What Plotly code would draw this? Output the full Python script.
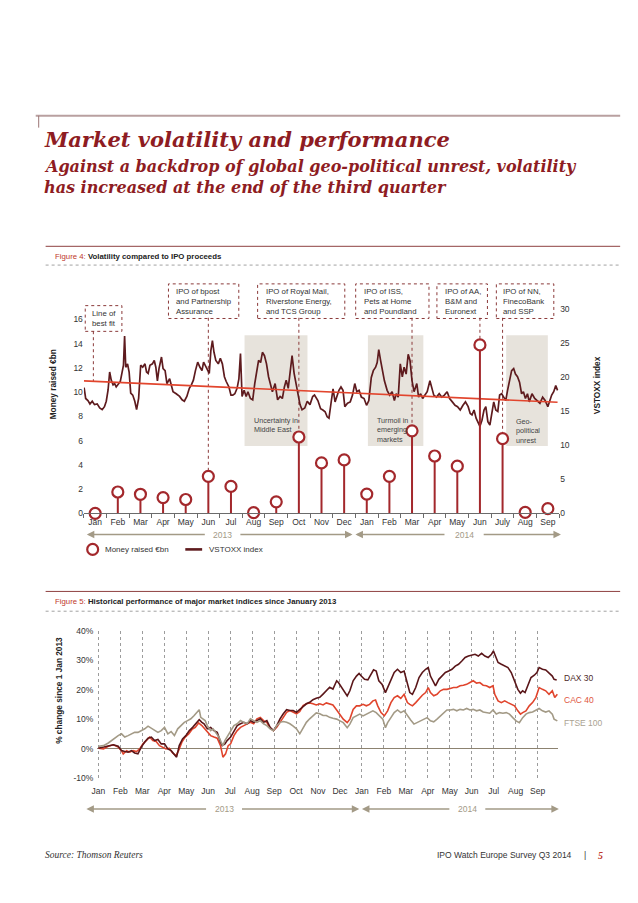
import plotly.graph_objects as go

W, H = 638, 903
def PX(x): return x / W
def PY(y): return 1 - y / H

# ---------------- DATA ----------------
months_fig4 = ["Jan","Feb","Mar","Apr","May","Jun","Jul","Aug","Sep","Oct","Nov","Dec",
               "Jan","Feb","Mar","Apr","May","Jun","July","Aug","Sep"]
months_fig5 = ["Jan","Feb","Mar","Apr","May","Jun","Jul","Aug","Sep","Oct","Nov","Dec",
               "Jan","Feb","Mar","Apr","May","Jun","Jul","Aug","Sep"]

# IPO money raised per month (EUR bn), Jan 2013 .. Sep 2014
money_raised = [0.0, 1.76, 1.57, 1.30, 1.14, 3.05, 2.22, 0.05, 0.95, 6.3, 4.16, 4.41,
                1.59, 3.05, 6.81, 4.73, 3.89, 13.9, 6.16, 0.08, 0.38]

# VSTOXX index, time in months (0 = Jan 2013)
vstoxx_t = [-0.49,-0.42,-0.32,-0.23,-0.13,-0.03,0.09,0.20,0.31,0.41,
            0.49,0.57,0.64,0.71,0.79,0.86,0.93,1.03,1.11,1.18,
            1.25,1.30,1.35,1.43,1.50,1.57,1.66,1.75,1.83,1.92,
            2.01,2.10,2.20,2.27,2.34,2.42,2.53,2.61,2.68,2.75,
            2.82,2.93,3.00,3.09,3.17,3.29,3.44,3.58,3.73,3.84,
            3.94,4.05,4.16,4.25,4.34,4.43,4.53,4.63,4.72,4.79,
            4.89,4.96,5.04,5.11,5.18,5.25,5.33,5.44,5.53,5.62,
            5.71,5.79,5.91,6.00,6.08,6.17,6.27,6.35,6.42,6.49,
            6.58,6.67,6.75,6.86,6.96,7.05,7.15,7.22,7.31,7.39,
            7.48,7.57,7.66,7.74,7.83,7.95,8.06,8.17,8.27,8.36,
            8.44,8.53,8.62,8.70,8.79,8.88,8.97,9.05,9.14,9.26,
            9.37,9.49,9.61,
            9.69,9.84,9.96,10.06,10.16,10.25,10.33,10.42,10.51,10.60,
            10.68,10.77,10.86,10.95,11.03,11.15,11.27,11.37,11.47,11.56,
            11.66,11.76,11.88,11.99,12.09,12.20,12.29,12.39,12.46,12.53,
            12.61,12.69,12.78,12.90,13.01,13.12,13.22,13.30,13.39,13.48,
            13.57,13.65,13.74,13.83,13.91,14.00,14.09,14.21,14.29,14.38,
            14.47,14.57,14.67,14.79,14.88,14.96,15.08,15.20,15.31,15.43,
            15.55,15.66,15.78,15.90,16.01,16.13,16.25,16.36,16.48,16.57,
            16.65,16.74,16.83,16.91,17.00,17.09,17.18,17.26,17.35,17.44,
            17.53,17.61,17.70,17.79,17.87,17.96,18.05,18.14,18.22,18.31,
            18.40,18.49,18.57,18.66,18.75,18.84,18.92,19.01,19.10,19.18,
            19.30,19.42,19.53,19.65,19.77,19.88,20.00,20.09,20.17,20.26,
            20.35,20.43]
vstoxx = [18.5,16.9,16.6,16.1,16.5,16.0,16.1,15.5,15.25,15.7,
          16.5,18.15,20.8,19.6,18.9,19.1,18.6,19.1,19.4,20.6,
          21.8,26.1,21.5,22.0,20.8,17.7,17.4,16.5,15.25,16.9,
          21.8,21.5,22.0,20.8,20.6,21.8,22.0,22.5,21.5,19.5,
          21.3,23.0,21.3,21.0,19.1,19.8,17.9,17.6,17.2,16.7,
          16.5,17.2,18.4,18.9,19.6,21.0,22.25,21.5,21.0,22.25,
          21.5,21.0,20.6,23.9,25.4,23.7,22.5,22.0,22.8,22.0,
          20.1,19.4,18.6,17.4,17.4,17.6,18.4,19.8,23.5,17.2,
          18.1,17.2,17.9,16.9,16.7,19.1,21.0,22.5,22.2,23.7,
          23.2,22.0,20.1,19.1,17.9,19.1,16.7,17.2,16.9,18.6,
          19.6,18.4,21.0,23.2,20.6,19.1,17.2,16.0,15.25,15.5,
          16.5,16.0,17.2,
          17.4,16.6,15.4,15.2,14.95,14.2,14.0,16.2,18.3,16.4,
          17.4,18.1,18.6,18.1,15.7,16.2,16.4,17.4,19.1,17.9,
          18.1,17.1,16.9,15.9,16.6,20.0,21.0,21.5,22.2,24.1,
          22.5,21.0,19.5,18.1,17.4,17.9,16.6,17.6,17.1,22.0,
          20.1,21.5,20.5,23.4,22.5,19.5,17.9,19.1,17.1,17.6,
          16.9,17.4,17.9,19.5,18.3,17.4,17.1,17.6,17.1,17.4,
          17.9,16.9,16.4,15.9,15.7,15.2,15.9,16.4,15.7,14.7,
          14.5,15.2,14.0,13.3,12.8,13.7,15.2,15.7,13.5,13.0,
          14.7,16.4,15.2,15.0,17.4,17.6,17.1,16.6,18.1,19.5,
          21.0,21.3,20.5,20.1,19.3,17.6,17.9,16.9,17.6,16.4,
          17.6,16.9,16.6,16.2,17.1,16.6,15.7,16.6,17.4,17.9,
          18.8,18.1]

# line of best fit through VSTOXX (start / end)
fit_t = [-0.5, 20.43]
fit_v = [19.5, 16.35]

# Figure 5: % change since 1 Jan 2013, time in months (0 = 1 Jan 2013)
dax_t = [0.00,0.23,0.45,0.68,0.90,1.05,1.20,1.35,1.50,1.65,
         1.80,1.95,2.11,2.26,2.41,2.56,2.71,2.86,3.01,3.16,
         3.31,3.46,3.56,3.68,3.83,3.98,4.14,4.29,4.44,4.59,
         4.71,4.81,4.96,5.11,5.26,5.41,5.56,5.64,5.76,5.86,
         6.02,6.17,6.32,6.47,6.62,6.77,6.92,7.07,7.22,7.37,
         7.52,7.67,7.82,7.97,8.12,8.27,8.42,8.57,8.72,8.87,
         9.02,9.17,9.32,9.47,9.62,9.77,9.92,10.08,10.23,10.38,
         10.53,10.68,
         10.85,10.93,11.07,11.22,11.33,11.45,11.60,11.75,11.87,11.97,
         12.12,12.27,12.42,12.53,12.65,12.77,12.92,13.07,13.17,13.32,
         13.47,13.62,13.77,13.92,14.07,14.18,14.30,14.45,14.60,14.75,
         14.90,15.02,15.12,15.23,15.35,15.50,15.65,15.80,15.95,16.10,
         16.25,16.40,16.55,16.70,16.85,17.00,17.15,17.30,17.45,17.60,
         17.75,17.90,17.99,18.08,18.20,18.35,18.50,18.65,18.80,18.95,
         19.10,19.22,19.32,19.43,19.55,19.70,19.85,19.97,20.07,20.22,
         20.37,20.52,20.67,20.75,20.87]
dax = [0.2,0.6,0.9,1.4,0.9,-0.6,-0.9,-1.1,-0.6,-1.4,
       -1.7,0.6,2.3,3.6,4.0,2.8,3.2,1.7,1.7,0.0,
       -0.6,-2.0,-2.8,1.1,3.4,4.5,6.2,7.3,8.5,9.9,
       9.0,8.5,6.8,7.3,6.2,5.6,2.3,1.1,1.7,2.8,
       4.0,6.2,7.9,8.5,9.0,8.5,9.6,9.0,9.6,10.2,
       9.0,9.6,7.3,6.2,7.9,10.2,11.9,13.3,13.0,13.0,
       12.4,13.3,14.1,15.3,15.8,16.7,17.2,17.5,18.6,19.8,
       20.9,20.3,
       23.1,22.5,20.8,19.1,18.0,19.7,23.1,24.7,25.6,24.7,
       23.6,23.4,25.3,26.8,26.4,23.1,21.9,19.1,20.8,23.6,
       25.9,27.0,25.9,26.4,21.9,19.1,18.5,20.8,24.2,25.9,
       27.0,27.6,24.7,23.1,21.4,23.6,24.7,25.9,26.4,27.0,
       28.1,28.7,29.8,31.0,31.5,31.8,32.1,31.5,32.4,31.5,
       31.0,32.1,33.2,31.5,29.3,28.7,28.1,27.6,25.9,23.1,
       20.2,18.9,19.7,19.1,21.4,24.2,25.0,25.9,27.6,27.0,
       26.8,25.9,24.7,23.6,23.4]

cac_t = [0.00,0.23,0.45,0.68,0.90,1.05,1.13,1.28,1.43,1.58,
         1.73,1.88,2.03,2.18,2.33,2.48,2.63,2.78,2.93,3.08,
         3.23,3.38,3.53,3.65,3.80,3.95,4.11,4.26,4.41,4.56,
         4.71,4.81,4.96,5.11,5.26,5.41,5.56,5.67,5.79,5.91,
         6.02,6.17,6.32,6.47,6.62,6.77,6.92,7.07,7.22,7.37,
         7.52,7.67,7.82,7.97,8.12,8.27,8.42,8.57,8.72,8.87,
         9.02,9.17,9.32,9.47,9.62,9.77,9.92,10.08,10.23,10.38,
         10.53,10.68,
         10.85,11.00,11.15,11.33,11.45,11.60,11.75,11.90,12.05,12.20,
         12.35,12.50,12.62,12.72,12.87,13.02,13.17,13.32,13.47,13.62,
         13.77,13.92,14.07,14.18,14.30,14.45,14.60,14.75,14.90,15.02,
         15.12,15.27,15.42,15.57,15.72,15.87,16.02,16.17,16.32,16.47,
         16.62,16.77,16.92,17.07,17.22,17.37,17.52,17.67,17.82,17.97,
         18.05,18.20,18.35,18.50,18.65,18.80,18.95,19.10,19.22,19.32,
         19.47,19.62,19.77,19.92,20.07,20.22,20.37,20.52,20.67,20.78,
         20.90]
cac = [0.2,0.0,0.9,1.4,0.6,-0.6,-1.7,-0.6,-1.1,-0.6,
       -0.9,0.0,1.7,2.8,4.0,2.8,2.5,1.1,0.6,0.0,
       0.2,-1.4,-2.3,-0.6,2.3,4.0,5.1,6.6,7.3,8.8,
       7.9,7.0,5.6,4.5,4.0,3.6,1.1,-2.8,-1.7,1.1,
       1.7,4.5,6.2,7.3,7.9,8.5,9.0,8.5,10.2,10.7,
       9.6,9.0,7.0,6.2,7.3,9.0,10.7,12.4,13.0,12.4,
       11.9,12.7,14.7,15.3,15.6,15.3,14.9,15.3,14.9,15.6,
       15.3,14.9,
       13.2,11.8,10.1,8.9,10.1,13.4,14.6,14.6,15.1,14.6,
       15.1,16.3,16.6,14.6,12.3,11.2,12.9,15.7,17.4,18.0,
       17.1,18.5,15.7,15.1,14.6,15.7,17.1,18.2,19.1,20.8,
       19.1,18.0,18.5,19.7,20.2,20.2,20.5,20.8,20.8,21.4,
       21.6,21.9,22.5,23.1,22.3,22.5,21.6,21.4,20.8,21.4,
       18.5,16.3,15.7,16.3,15.7,15.1,14.6,12.9,11.8,12.3,
       12.9,14.6,15.7,17.4,20.8,20.2,19.7,18.5,19.7,17.4,
       18.5]

ftse_t = [0.00,0.23,0.45,0.68,0.90,1.05,1.20,1.35,1.50,1.65,
          1.80,1.95,2.11,2.26,2.41,2.56,2.71,2.86,3.01,3.16,
          3.31,3.46,3.61,3.76,3.91,4.06,4.21,4.36,4.47,4.59,
          4.66,4.74,4.86,4.96,5.11,5.22,5.34,5.49,5.59,5.67,
          5.76,5.86,6.02,6.17,6.32,6.47,6.62,6.77,6.92,7.07,
          7.22,7.37,7.52,7.67,7.82,7.97,8.12,8.27,8.42,8.57,
          8.72,8.87,9.02,9.17,9.32,9.47,9.62,9.77,9.92,10.08,
          10.23,10.38,10.53,10.68,
          10.85,11.00,11.15,11.33,11.45,11.60,11.75,11.90,12.05,12.20,
          12.35,12.50,12.65,12.80,12.95,13.07,13.17,13.32,13.47,13.62,
          13.77,13.92,14.07,14.22,14.37,14.52,14.67,14.82,14.97,15.12,
          15.27,15.42,15.57,15.72,15.87,16.02,16.17,16.32,16.47,16.62,
          16.77,16.92,17.07,17.22,17.37,17.52,17.67,17.82,17.97,18.12,
          18.27,18.42,18.57,18.72,18.87,19.02,19.17,19.32,19.47,19.62,
          19.77,19.92,20.07,20.22,20.37,20.52,20.67,20.75,20.90]
ftse = [0.9,1.1,2.0,3.4,4.5,5.1,4.0,4.5,5.1,5.6,
        5.6,6.2,6.8,7.7,7.0,6.2,5.6,6.2,7.3,5.1,
        5.9,4.5,6.8,7.9,9.0,9.6,10.2,11.3,12.4,13.3,
        10.7,10.2,9.6,7.9,6.2,6.8,5.6,4.0,2.3,1.1,
        2.8,4.0,6.2,7.9,8.5,9.6,9.0,8.5,10.2,9.6,
        9.0,9.6,8.5,7.9,6.8,6.2,7.9,9.0,9.3,9.0,
        8.5,7.7,6.8,5.1,7.3,9.0,10.2,11.3,12.2,11.9,
        11.3,11.3,10.7,10.4,
        10.1,9.5,8.9,7.2,8.4,10.6,11.2,11.8,11.2,11.8,
        12.5,12.9,12.3,11.2,10.1,7.2,8.9,10.6,12.3,13.2,
        12.3,12.9,11.2,9.8,8.4,8.9,9.5,10.1,10.6,9.5,
        9.2,10.1,11.2,12.3,13.2,13.2,13.4,12.9,13.4,13.2,
        13.7,13.2,13.4,12.9,13.2,12.5,12.3,12.1,13.2,11.8,
        12.3,12.1,12.3,11.8,10.6,9.5,8.9,10.6,11.8,12.3,
        12.5,13.2,13.7,12.9,12.5,12.9,11.8,10.1,9.5]

fig5_ticks = [-10, 0, 10, 20, 30, 40]

# ---------------- STYLE ----------------
SANS = "Liberation Sans, Arial, sans-serif"
SERIF = "DejaVu Serif, serif"
RED_T = "#8e1c22"
MAROON = "#5e1b1e"
STEM = "#a3282c"
FITRED = "#e2452d"
TAN = "#a39a86"
TXT = "#333333"

fig = go.Figure()

# ---- Figure 4 traces ----
fig.add_trace(go.Scatter(x=vstoxx_t, y=vstoxx, xaxis="x", yaxis="y", mode="lines",
                         line=dict(color=MAROON, width=1.7), hoverinfo="skip"))
fig.add_trace(go.Scatter(x=fit_t, y=fit_v, xaxis="x", yaxis="y", mode="lines",
                         line=dict(color=FITRED, width=1.6), hoverinfo="skip"))
stem_x, stem_y = [], []
for i, v in enumerate(money_raised):
    stem_x += [i, i, None]
    stem_y += [0, v, None]
fig.add_trace(go.Scatter(x=stem_x, y=stem_y, xaxis="x", yaxis="y2", mode="lines",
                         line=dict(color=STEM, width=2), hoverinfo="skip"))
fig.add_trace(go.Scatter(x=list(range(len(money_raised))), y=money_raised, xaxis="x", yaxis="y2",
                         mode="markers", cliponaxis=False,
                         marker=dict(symbol="circle", size=11, color="white",
                                     line=dict(color=STEM, width=2.2)),
                         hoverinfo="skip"))

# ---- Figure 5 traces ----
fig.add_trace(go.Scatter(x=cac_t, y=cac, xaxis="x3", yaxis="y3", mode="lines",
                         line=dict(color="#e0442c", width=1.6), hoverinfo="skip"))
fig.add_trace(go.Scatter(x=dax_t, y=dax, xaxis="x3", yaxis="y3", mode="lines",
                         line=dict(color="#5a1619", width=1.6), hoverinfo="skip"))
fig.add_trace(go.Scatter(x=ftse_t, y=ftse, xaxis="x3", yaxis="y3", mode="lines",
                         line=dict(color=TAN, width=1.6), hoverinfo="skip"))

tickfont = dict(family=SANS, size=8.5, color=TXT)

fig.update_layout(
    width=W, height=H, autosize=False, showlegend=False,
    margin=dict(l=0, r=0, t=0, b=0),
    paper_bgcolor="white", plot_bgcolor="white",
    xaxis=dict(domain=[PX(78.6), PX(558.4)], range=[-0.5, 20.5], anchor="y",
               tickmode="array", tickvals=list(range(21)), ticktext=months_fig4,
               ticks="", showline=True, linecolor="#6b6b6b", linewidth=1,
               showgrid=False, zeroline=False, tickfont=tickfont,
               minor=dict(tick0=0.5, dtick=1, ticks="outside", ticklen=4,
                          tickcolor="#6b6b6b", showgrid=False)),
    yaxis=dict(domain=[PY(514), PY(300)], range=[0, 31.15], side="right", anchor="x",
               tickmode="array", tickvals=[0, 5, 10, 15, 20, 25, 30],
               showgrid=False, zeroline=False, showline=False, ticks="", tickfont=tickfont),
    yaxis2=dict(overlaying="y", side="left", range=[0, 17.47], anchor="x",
                tickmode="array", tickvals=[0, 2, 4, 6, 8, 10, 12, 14, 16],
                showgrid=False, zeroline=False, showline=False, ticks="", tickfont=tickfont),
    xaxis3=dict(domain=[PX(92.2), PX(557.7)], range=[-0.05, 20.95], anchor="y3",
                tickmode="array", tickvals=list(range(21)), ticktext=months_fig5,
                ticks="", showline=False, zeroline=False, ticklabelstandoff=6,
                showgrid=True, gridcolor="#9c9c9c", gridwidth=1, griddash="dot",
                tickfont=tickfont),
    yaxis3=dict(domain=[PY(782), PY(633)], range=[-10, 40], anchor="x3",
                tickmode="array", tickvals=fig5_ticks,
                ticktext=[f"{v}%" for v in fig5_ticks], ticklabelstandoff=3,
                showgrid=False, zeroline=True, zerolinecolor="#8c8270", zerolinewidth=1.3,
                showline=False, ticks="", tickfont=tickfont),
)

shapes = []
ann = []

def text(x, y, s, size=8, color=TXT, xanchor="left", yanchor="middle", family=SANS,
         weight="normal", style="normal", align="left", angle=0, xref="paper", yref="paper"):
    ann.append(dict(x=x, y=y, xref=xref, yref=yref, text=s, showarrow=False,
                    xanchor=xanchor, yanchor=yanchor, align=align, textangle=angle,
                    font=dict(family=family, size=size, color=color, weight=weight, style=style)))

def pline(x0, y0, x1, y1, color, width=1, dash="solid"):
    shapes.append(dict(type="line", xref="paper", yref="paper",
                       x0=PX(x0), y0=PY(y0), x1=PX(x1), y1=PY(y1),
                       line=dict(color=color, width=width, dash=dash)))

# ---- page header ----
pline(30, 112, 620, 112, "#b9a0a0", 2)
pline(33, 112, 33, 124, "#9c7676", 1)
text(PX(36), PY(136), "Market volatility and performance", size=21, color=RED_T,
     family=SERIF, weight="bold", style="italic")
text(PX(36), PY(163), "Against a backdrop of global geo-political unrest, volatility",
     size=16, color=RED_T, family=SERIF, weight="bold", style="italic")
text(PX(36), PY(185), "has increased at the end of the third quarter",
     size=16, color=RED_T, family=SERIF, weight="bold", style="italic")

# ---- figure headers ----
for (ys, yt, yd, label, title) in [(244, 254, 263, "Figure 4:", "Volatility compared to IPO proceeds"),
                                    (593, 603, 613, "Figure 5:", "Historical performance of major market indices since January 2013")]:
    pline(40, ys, 620, ys, "#8e4040", 1)
    pline(40, yd, 620, yd, "#8a8a8a", 0.8, "dot")
    text(PX(47), PY(yt), f"<span style='color:#c0392b'>{label}</span> <b>{title}</b>",
         size=7.8, color="#222")

# ---- Figure 4 shaded periods ----
shade_periods = [(6.6, 9.38), (12.05, 14.5), (18.16, 20.0)]
for x0, x1 in shade_periods:
    shapes.append(dict(type="rect", xref="x", yref="paper", x0=x0, x1=x1,
                       y0=PY(446), y1=PY(334), fillcolor="#e7e3dc", line=dict(width=0),
                       layer="below"))
text(PX(248), PY(425), "Uncertainty in<br>Middle East", size=7.2, color="#444")
text(PX(372.5), PY(429.5), "Turmoil in<br>emerging<br>markets", size=7.2, color="#444")
text(PX(512.5), PY(430.5), "Geo-<br>political<br>unrest", size=7.2, color="#444")

# ---- Figure 4 callout boxes ----
BOXC = "#8b3a3a"
boxes = [
    ((80, 304, 117, 330), "Line of<br>best fit", 85),
    ((164, 282, 235, 317), "IPO of bpost<br>and Partnership<br>Assurance", 170),
    ((254, 282, 342, 317), "IPO of Royal Mail,<br>Riverstone Energy,<br>and TCS Group", 260),
    ((353, 282, 427, 317), "IPO of ISS,<br>Pets at Home<br>and Poundland", 359),
    ((435, 282, 486, 317), "IPO of AA,<br>B&amp;M and<br>Euronext", 441),
    ((495, 282, 553, 317), "IPO of NN,<br>FinecoBank<br>and SSP", 500),
]
for (x0, y0, x1, y1), s, tx in boxes:
    shapes.append(dict(type="rect", xref="paper", yref="paper",
                       x0=PX(x0), x1=PX(x1), y0=PY(y1), y1=PY(y0),
                       line=dict(color=BOXC, width=1, dash="dot"), fillcolor="rgba(0,0,0,0)"))
    text(PX(tx), PY((y0 + y1) / 2), s, size=7.8, color=TXT)

# pointer from "Line of best fit" box down to the fit line
lobf_t = -0.08
lobf_v = fit_v[0] + (fit_v[1] - fit_v[0]) * (lobf_t - fit_t[0]) / (fit_t[1] - fit_t[0])
shapes.append(dict(type="line", xref="x", yref="y", x0=lobf_t, x1=lobf_t, y0=26.8, y1=lobf_v,
                   line=dict(color=BOXC, width=1, dash="dot"), layer="below"))
# pointers from IPO boxes down to the month lollipops
for m in [5, 9, 14, 17, 18]:
    shapes.append(dict(type="line", xref="x", yref="y2", x0=m, x1=m, y0=16.14,
                       y1=money_raised[m], line=dict(color=BOXC, width=1, dash="dot"),
                       layer="below"))

# ---- axis titles ----
text(PX(47), PY(384), "<b>Money raised €bn</b>", size=8.3, color="#222", xanchor="center",
     angle=-90)
text(PX(596), PY(384), "<b>VSTOXX index</b>", size=8.3, color="#222", xanchor="center",
     angle=-90)
text(PX(54), PY(693), "<b>% change since 1 Jan 2013</b>", size=8.3, color="#222",
     xanchor="center", angle=-90)

# ---- year arrows ----
def year_arrow(xref, yv, left_tip, right_tip, center, gap, label):
    for tip, tail in [(left_tip, center - gap), (right_tip, center + gap)]:
        ann.append(dict(x=tip, y=yv, xref=xref, yref="paper", ax=tail, ay=0, axref=xref,
                        ayref="pixel", text="", showarrow=True, arrowhead=2, arrowsize=1,
                        arrowwidth=1.5, arrowcolor=TAN, standoff=0, startstandoff=0))
    ann.append(dict(x=center, y=yv, xref=xref, yref="paper", text=label, showarrow=False,
                    xanchor="center", yanchor="middle",
                    font=dict(family=SANS, size=8.5, color=TAN)))

year_arrow("x", PY(535.5), -0.37, 11.37, 5.63, 0.72, "2013")
year_arrow("x", PY(535.5), 11.5, 20.58, 16.3, 0.8, "2014")
year_arrow("x3", PY(813), -0.55, 11.88, 5.72, 0.75, "2013")
year_arrow("x3", PY(813), 12.0, 20.97, 16.8, 0.75, "2014")

# ---- Figure 4 legend ----
shapes.append(dict(type="circle", xref="paper", yref="paper",
                   x0=PX(82), x1=PX(93), y0=PY(556), y1=PY(545),
                   line=dict(color=STEM, width=2.2), fillcolor="white"))
text(PX(98), PY(550.5), "Money raised €bn", size=8, color=TXT)
pline(181, 550.5, 198, 550.5, MAROON, 2.6)
text(PX(203), PY(550.5), "VSTOXX index", size=8, color=TXT)

# ---- Figure 5 series labels ----
for lab, yv, col in [("DAX 30", 24.2, "#4e2a2a"), ("CAC 40", 16.6, "#e0553d"),
                     ("FTSE 100", 8.7, "#aaa292")]:
    ann.append(dict(x=20.9, y=yv, xref="x3", yref="y3", text=lab, showarrow=False,
                    xanchor="left", yanchor="middle", xshift=5,
                    font=dict(family=SANS, size=8.5, color=col)))

# ---- footer ----
text(PX(37), PY(860), "Source: Thomson Reuters", size=9.5, color=TXT,
     family="Liberation Serif, serif", style="italic")
text(PX(573), PY(860), "IPO Watch Europe Survey Q3 2014", size=8.5, color=TXT,
     xanchor="right")
text(PX(585), PY(860), "|", size=8.5, color=TXT, xanchor="center")
text(PX(600), PY(860), "5", size=10, color="#c0392b", xanchor="center",
     family="Liberation Serif, serif", style="italic", weight="bold")

fig.update_layout(shapes=shapes, annotations=ann)
fig.write_html("out.html", config={"displayModeBar": False},
               post_script="document.body.style.margin='0px';")
